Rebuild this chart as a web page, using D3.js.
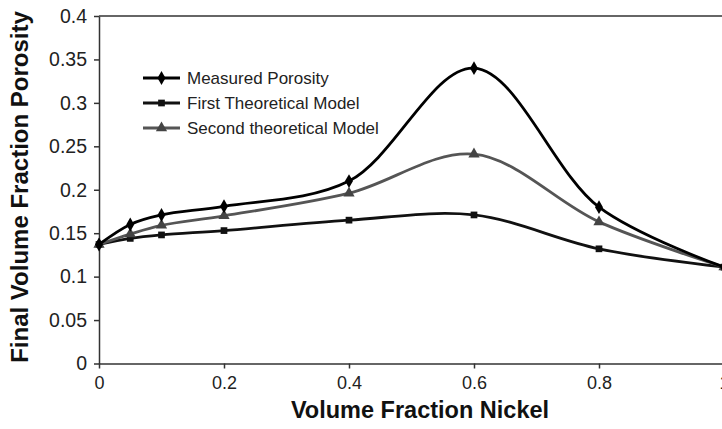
<!DOCTYPE html>
<html>
<head>
<meta charset="utf-8">
<script src="https://cdn.jsdelivr.net/npm/d3@7/dist/d3.min.js"></script>
<style>
  html, body { margin: 0; padding: 0; background: #fff; }
  svg { display: block; font-family: "Liberation Sans", Arial, sans-serif; }
</style>
</head>
<body>
<svg id="chart" width="722" height="429"></svg>
<script>
// Nickel volume fraction (x) for every series
const nickel = [0, 0.05, 0.1, 0.2, 0.4, 0.6, 0.8, 1];

// Final porosity per series
const measured = [0.137, 0.160, 0.171, 0.181, 0.210, 0.340, 0.180, 0.111];
const firstModel = [0.137, 0.144, 0.148, 0.153, 0.165, 0.171, 0.132, 0.111];
const secondModel = [0.137, 0.149, 0.159, 0.170, 0.196, 0.241, 0.163, 0.111];

const seriesNames = ["Measured Porosity", "First Theoretical Model", "Second theoretical Model"];

const xTicks = [0, 0.2, 0.4, 0.6, 0.8, 1];
const yTicks = [0, 0.05, 0.1, 0.15, 0.2, 0.25, 0.3, 0.35, 0.4];

const svg = d3.select("#chart");
const plotLeft = 99, plotRight = 724, plotTop = 16, plotBottom = 363.5;

const x = d3.scaleLinear().domain([0, 1]).range([plotLeft, plotRight]);
const y = d3.scaleLinear().domain([0, 0.4]).range([plotBottom, plotTop]);

const axisColor = "#333";

// frame: top edge of the plot area
svg.append("line")
  .attr("x1", plotLeft).attr("x2", plotRight)
  .attr("y1", y(0.4)).attr("y2", y(0.4))
  .attr("stroke", axisColor).attr("stroke-width", 1.5);

// y axis
const yAxis = svg.append("g")
  .attr("transform", `translate(${plotLeft},0)`)
  .call(d3.axisLeft(y).tickValues(yTicks).tickSize(5).tickSizeOuter(0)
    .tickFormat(d => String(+d.toFixed(2))));
// x axis
const xAxis = svg.append("g")
  .attr("transform", `translate(0,${plotBottom})`)
  .call(d3.axisBottom(x).tickValues(xTicks).tickSize(5).tickSizeOuter(0)
    .tickFormat(d => String(+d.toFixed(1))));

[yAxis, xAxis].forEach(g => {
  g.select(".domain").attr("stroke", axisColor).attr("stroke-width", 1.5);
  g.selectAll(".tick line").attr("stroke", axisColor).attr("stroke-width", 1.5);
  g.selectAll(".tick text")
    .attr("fill", "#222")
    .style("font-family", "'Liberation Sans', Arial, sans-serif");
});
yAxis.selectAll(".tick text").attr("x", -12).style("font-size", "19.5px");
xAxis.selectAll(".tick text").attr("y", 13).style("font-size", "18px");

// axis titles
svg.append("text")
  .attr("x", 420).attr("y", 418)
  .attr("text-anchor", "middle")
  .style("font-size", "23.5px").style("font-weight", "bold")
  .attr("fill", "#111")
  .text("Volume Fraction Nickel");

svg.append("text")
  .attr("transform", "translate(28,187) rotate(-90)")
  .attr("text-anchor", "middle")
  .style("font-size", "24px").style("font-weight", "bold")
  .attr("fill", "#111")
  .text("Final Volume Fraction Porosity");

const line = d3.line()
  .x(d => x(d[0]))
  .y(d => y(d[1]))
  .curve(d3.curveCatmullRom.alpha(0.5));

const series = [
  { name: seriesNames[0], values: measured, stroke: "#000", fill: "#000", marker: d3.symbolDiamond, size: 55 },
  { name: seriesNames[1], values: firstModel, stroke: "#111", fill: "#111", marker: d3.symbolSquare, size: 45 },
  { name: seriesNames[2], values: secondModel, stroke: "#555", fill: "#444", marker: d3.symbolTriangle, size: 55 }
];

// draw bottom-most series first so the measured curve sits on top
[series[1], series[2], series[0]].forEach(s => {
  const pts = nickel.map((n, i) => [n, s.values[i]]);
  svg.append("path")
    .datum(pts)
    .attr("d", line)
    .attr("fill", "none")
    .attr("stroke", s.stroke)
    .attr("stroke-width", 2.8)
    .attr("stroke-linejoin", "round");
  svg.append("g").selectAll("path")
    .data(pts)
    .join("path")
    .attr("transform", d => `translate(${x(d[0])},${y(d[1])})`)
    .attr("d", d3.symbol().type(s.marker).size(s.size))
    .attr("fill", s.fill);
});

// legend
const legend = svg.append("g").attr("transform", "translate(143,78)");
series.forEach((s, i) => {
  const g = legend.append("g").attr("transform", `translate(0,${i * 25})`);
  g.append("line").attr("x1", 0).attr("x2", 37).attr("y1", 0).attr("y2", 0)
    .attr("stroke", s.stroke).attr("stroke-width", 2.8);
  g.append("path").attr("transform", "translate(18.5,0)")
    .attr("d", d3.symbol().type(s.marker).size(s.size)).attr("fill", s.fill);
  g.append("text").attr("x", 44).attr("y", 0).attr("dy", "0.35em")
    .style("font-size", "17px").attr("fill", "#222")
    .text(s.name);
});
</script>
</body>
</html>
